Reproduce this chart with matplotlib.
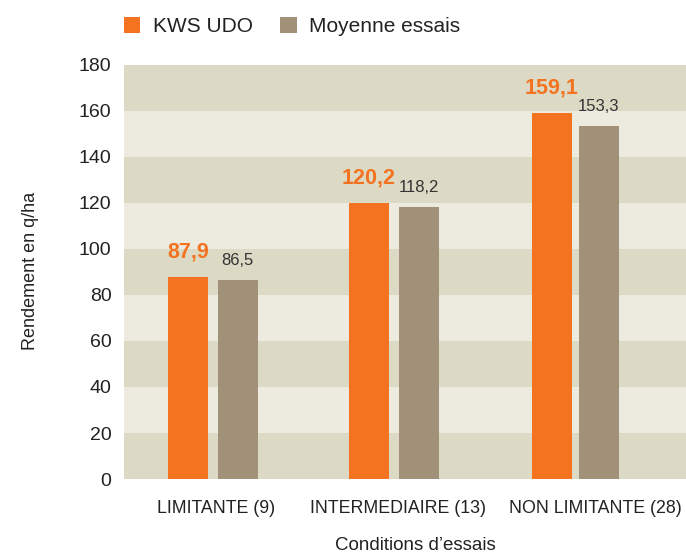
import matplotlib
matplotlib.use("Agg")
import matplotlib.pyplot as plt
import matplotlib.transforms as mtransforms
import numpy as np

categories = ["LIMITANTE (9)", "INTERMEDIAIRE (13)", "NON LIMITANTE (28)"]
kws_udo = [87.9, 120.2, 159.1]
moyenne = [86.5, 118.2, 153.3]
kws_labels = ["87,9", "120,2", "159,1"]
moy_labels = ["86,5", "118,2", "153,3"]
yticks = [0, 20, 40, 60, 80, 100, 120, 140, 160, 180]

plt.rcParams['font.family'] = ['Liberation Sans', 'DejaVu Sans']

ORANGE = "#f37321"
TAUPE = "#a09178"
DARK = "#dcd9c4"
LIGHT = "#edebe0"
TXT = "#222222"

fig = plt.figure(figsize=(6.86, 5.55), dpi=100)
ax = fig.add_axes([124/686, 1-479/555, (686-124)/686, (479-65)/555])

# background bands
for i in range(9):
    ax.axhspan(i*20, (i+1)*20, color=DARK if i % 2 == 0 else LIGHT, lw=0, zorder=0)

x = np.array([0.0, 1.0, 2.0])
w = 0.22
off = np.array([0.138, 0.138, 0.130])
ax.bar(x - off, kws_udo, w, color=ORANGE, zorder=2, label="KWS UDO")
ax.bar(x + off, moyenne, w, color=TAUPE, zorder=2, label="Moyenne essais")

for xi, v, t in zip(x - off, kws_udo, kws_labels):
    ax.text(xi, v + 6.2, t, ha="center", va="bottom", color=ORANGE,
            fontsize=15.5, fontweight="bold")
for xi, v, t in zip(x + off, moyenne, moy_labels):
    ax.text(xi, v + 5.2, t, ha="center", va="bottom", color="#333333", fontsize=12)

ax.set_xlim(-0.49, 2.61)
ax.set_ylim(0, 180)
ax.set_yticks(yticks)
ax.set_yticklabels([str(t) for t in yticks], fontsize=14, color=TXT)
ax.set_xticks(x)
ax.set_xticklabels(categories, fontsize=12.8, color=TXT)
ax.tick_params(axis="both", length=0)
ax.tick_params(axis="x", pad=15)
ax.tick_params(axis="y", pad=9)
for s in ax.spines.values():
    s.set_visible(False)

# nudge category labels to match original placement
shifts = [3, 4, 20]
for lab, dx in zip(ax.get_xticklabels(), shifts):
    lab.set_transform(lab.get_transform() +
                      mtransforms.ScaledTranslation(dx/100, 0, fig.dpi_scale_trans))

fig.text(415/686, 1-546/555, "Conditions d\u2019essais", fontsize=13.5, color=TXT,
         ha="center", va="center")
fig.text(31/686, 1-271/555, "Rendement en q/ha", fontsize=13, color=TXT,
         ha="center", va="center", rotation=90)

leg = fig.legend(loc="upper left", bbox_to_anchor=(105/686, 1+2/555), ncol=2,
                 frameon=False, fontsize=15, handlelength=0.8, handleheight=0.8,
                 handletextpad=0.6, columnspacing=1.3, labelcolor=TXT)

fig.savefig("out.png", dpi=100)
